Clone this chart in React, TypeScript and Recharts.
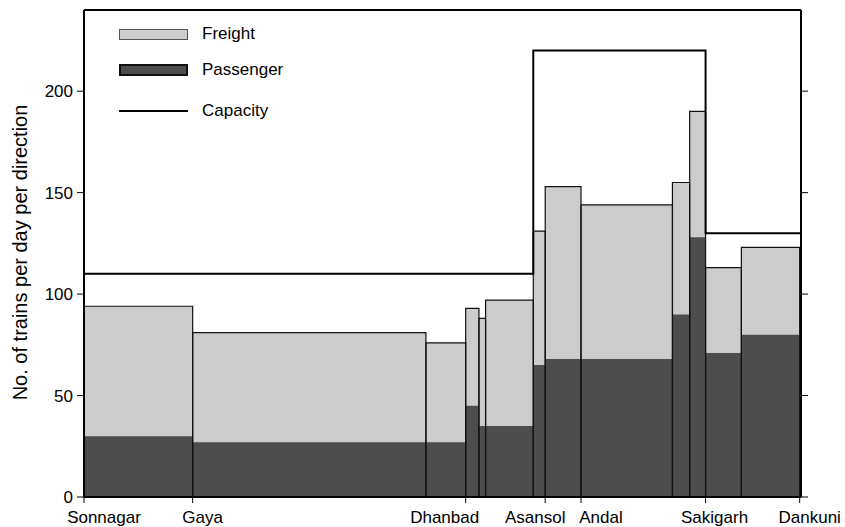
import { ComposedChart, XAxis, YAxis, Line, ReferenceArea, Legend } from 'recharts'

const stations = ['Sonnagar', 'Gaya', 'Dhanbad', 'Asansol', 'Andal', 'Sakigarh', 'Dankuni']
const stationKm = [0, 82, 288, 348, 375, 469, 540]

// line sections, km from Sonnagar
const sectionStart = [0, 82, 258, 288, 298, 303, 339, 348, 375, 444, 457, 469, 496]
const sectionEnd = [82, 258, 288, 298, 303, 339, 348, 375, 444, 457, 469, 496, 540]
const passengerTrains = [30, 27, 27, 45, 35, 35, 65, 68, 68, 90, 128, 71, 80]
const freightTrains = [64, 54, 49, 48, 53, 62, 66, 85, 76, 65, 62, 42, 43]

const capacityKm = [0, 339, 469, 541]
const capacityTrains = [110, 220, 130, 130]

const yTicks = [0, 50, 100, 150, 200]

const FONT = '"Liberation Sans", Arial, sans-serif'
const LIGHT = '#cccccc'
const DARK = '#4d4d4d'

// station names don't sit exactly centred on their tick
const labelShift: Record<string, number> = {
  Sonnagar: 20,
  Gaya: 10,
  Dhanbad: -21,
  Asansol: -10,
  Andal: 20,
  Sakigarh: 9,
  Dankuni: 10,
}

const capacityData = capacityKm.map((km, i) => ({ km, capacity: capacityTrains[i] }))

const sections = sectionStart.map((start, i) => ({
  start,
  end: sectionEnd[i],
  passenger: passengerTrains[i],
  total: passengerTrains[i] + freightTrains[i],
}))

function StationTick({ x, y, payload }: any) {
  const name = stations[stationKm.indexOf(payload.value)] ?? ''
  return (
    <text
      x={x + (labelShift[name] ?? 0)}
      y={y + 18}
      textAnchor="middle"
      fontSize={17}
      fontFamily={FONT}
      fill="#000"
    >
      {name}
    </text>
  )
}

function BlankTick() {
  return <g />
}

function AxisTitle({ viewBox }: any) {
  const cy = viewBox.y + viewBox.height / 2 - 1
  return (
    <text
      x={20}
      y={cy}
      transform={`rotate(-90, 20, ${cy})`}
      textAnchor="middle"
      dominantBaseline="central"
      fontSize={20}
      fontFamily={FONT}
      fill="#000"
    >
      No. of trains per day per direction
    </text>
  )
}

function KeyBox() {
  const row = { display: 'flex', alignItems: 'center', height: 20, position: 'absolute' as const, left: 119 }
  const text = { marginLeft: 14, fontSize: 17, fontFamily: FONT, color: '#000' }
  return (
    <div style={{ position: 'relative', width: 300, height: 130 }}>
      <div style={{ ...row, top: 24 }}>
        <div style={{ width: 67, height: 9, background: LIGHT, border: '1px solid #555' }} />
        <span style={text}>Freight</span>
      </div>
      <div style={{ ...row, top: 60 }}>
        <div style={{ width: 65, height: 8, background: DARK, border: '2px solid #111' }} />
        <span style={text}>Passenger</span>
      </div>
      <div style={{ ...row, top: 101 }}>
        <div style={{ width: 69, height: 2, background: '#000' }} />
        <span style={text}>Capacity</span>
      </div>
    </div>
  )
}

export default function App() {
  return (
    <div style={{ position: 'absolute', left: 0, top: 0 }}>
      <ComposedChart
        width={845}
        height={527}
        data={capacityData}
        margin={{ top: 9, right: 4, bottom: 0, left: 0 }}
      >
        <XAxis
          dataKey="km"
          type="number"
          domain={[0, 541]}
          ticks={stationKm}
          interval={0}
          tick={<StationTick />}
          tickSize={6}
          tickMargin={2}
          height={30}
          axisLine={{ stroke: '#000', strokeWidth: 2 }}
          tickLine={{ stroke: '#000' }}
          allowDataOverflow
        />
        {/* top edge of the frame */}
        <XAxis
          xAxisId="top"
          orientation="top"
          type="number"
          domain={[0, 541]}
          height={1}
          tick={false}
          tickLine={false}
          axisLine={{ stroke: '#000', strokeWidth: 2 }}
        />
        <YAxis
          type="number"
          domain={[0, 240]}
          ticks={yTicks}
          interval={0}
          width={84}
          tickSize={7}
          tickMargin={4}
          tick={{ fontSize: 17, fontFamily: FONT, fill: '#000' }}
          axisLine={{ stroke: '#000', strokeWidth: 2 }}
          tickLine={{ stroke: '#000' }}
          label={<AxisTitle />}
          allowDataOverflow
        />
        <YAxis
          yAxisId="right"
          orientation="right"
          type="number"
          domain={[0, 240]}
          ticks={yTicks}
          interval={0}
          width={40}
          tickSize={7}
          tick={<BlankTick />}
          axisLine={{ stroke: '#000', strokeWidth: 2 }}
          tickLine={{ stroke: '#000' }}
          allowDataOverflow
        />
        <Legend
          verticalAlign="middle"
          layout="horizontal"
          align="center"
          wrapperStyle={{ left: 0, top: 0, width: 300, height: 130 }}
          content={<KeyBox />}
        />

        {/* section fills: whole bar in freight grey, passenger share on top of it */}
        {sections.map((s, i) => (
          <ReferenceArea key={`f${i}`} x1={s.start} x2={s.end} y1={0} y2={s.total} fill={LIGHT} fillOpacity={1} stroke="none" />
        ))}
        {sections.map((s, i) => (
          <ReferenceArea key={`p${i}`} x1={s.start} x2={s.end} y1={0} y2={s.passenger} fill={DARK} fillOpacity={1} stroke="none" />
        ))}
        {sections.map((s, i) => (
          <ReferenceArea key={`o${i}`} x1={s.start} x2={s.end} y1={0} y2={s.total} fill="none" stroke="#111" strokeWidth={1.2} />
        ))}

        {/* capacity is plotted against the right-hand axis (same 0–240 scale) */}
        <Line
          yAxisId="right"
          type="stepAfter"
          dataKey="capacity"
          stroke="#000"
          strokeWidth={2}
          dot={false}
          activeDot={false}
          isAnimationActive={false}
        />
      </ComposedChart>
    </div>
  )
}
